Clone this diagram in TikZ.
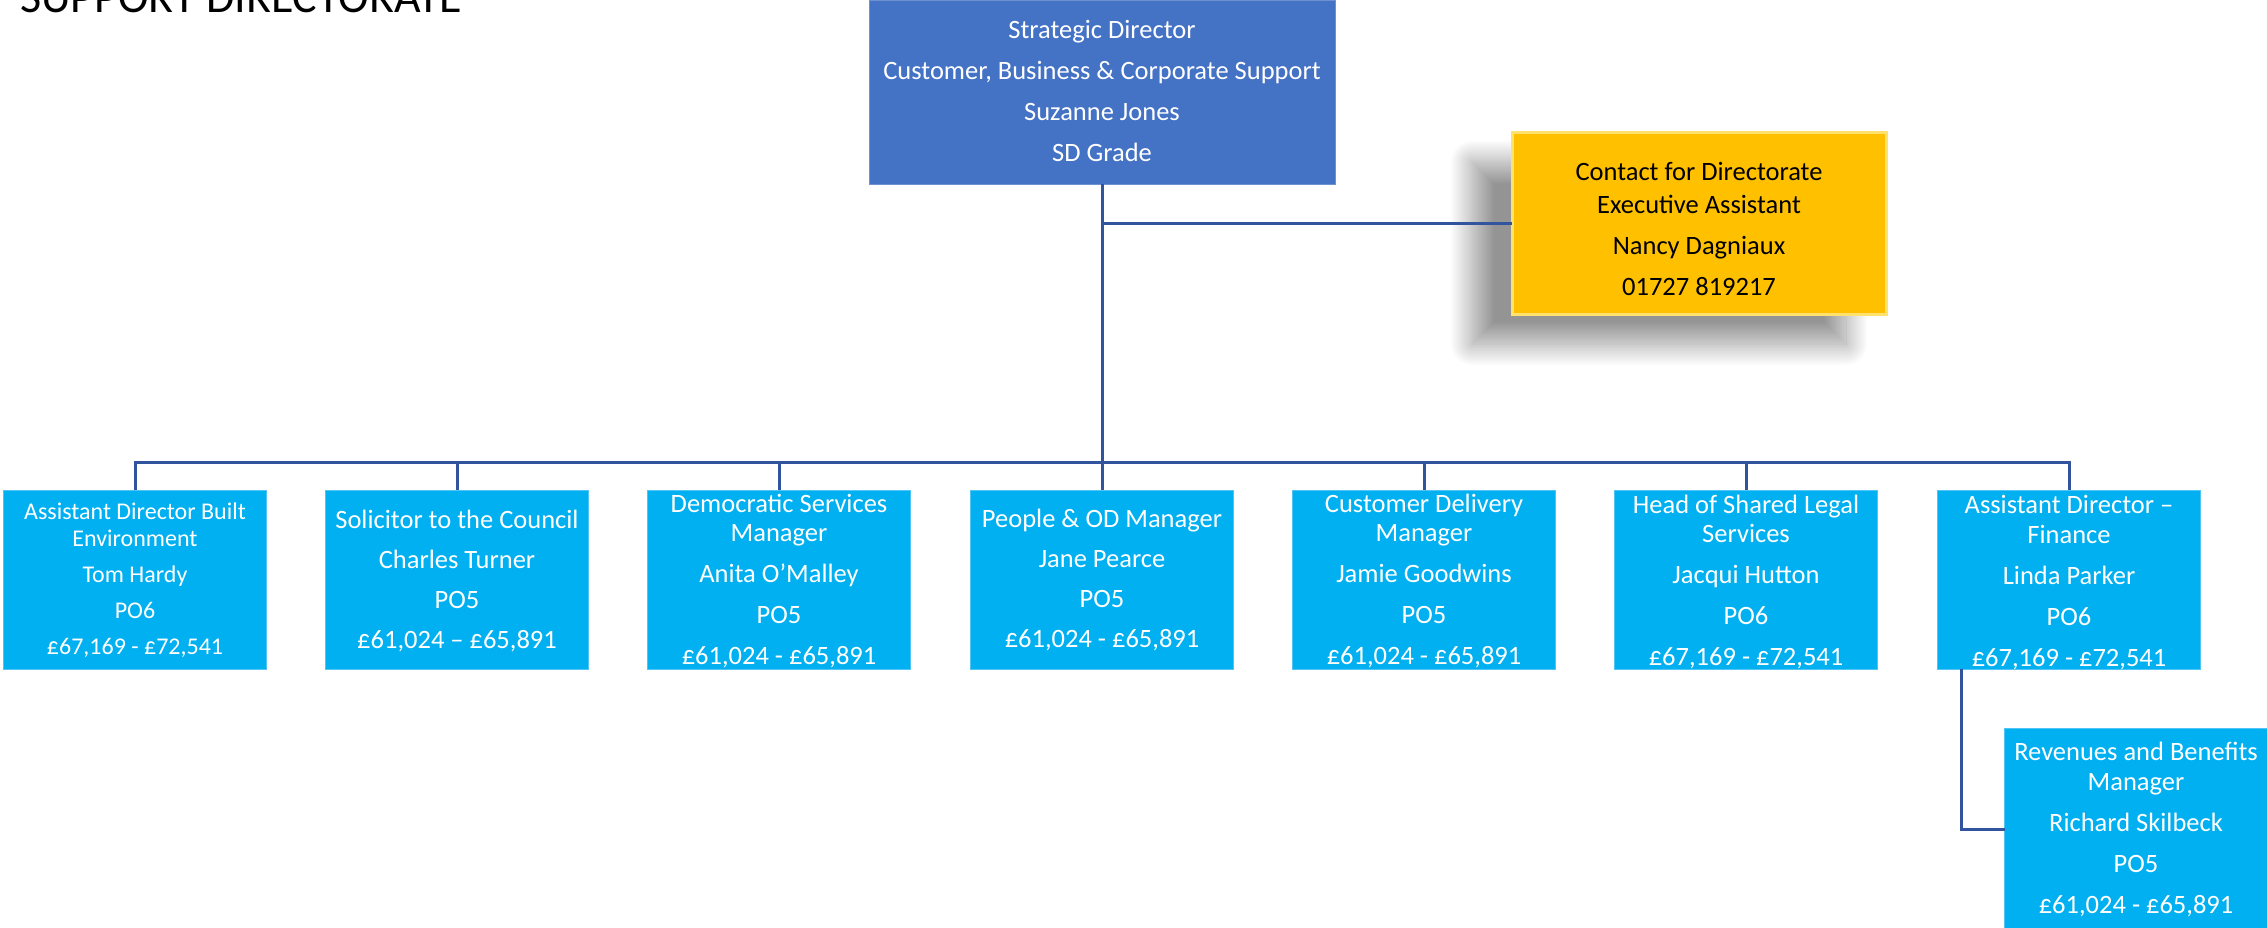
\documentclass[tikz,border=0pt]{standalone}
\usepackage{fontspec}
\setmainfont{Carlito}
\usetikzlibrary{shadows.blur}
\definecolor{topblue}{RGB}{68,114,196}
\definecolor{topedge}{RGB}{110,145,210}
\definecolor{boxblue}{RGB}{0,176,240}
\definecolor{boxedge}{RGB}{80,196,244}
\definecolor{gold}{RGB}{255,192,0}
\definecolor{goldedge}{RGB}{255,226,110}
\definecolor{linkblue}{RGB}{50,84,158}
\newcommand\boxlines[3]{\vtop{\baselineskip=#1\lineskiplimit=-100pt\lineskip=0pt\def\gp{\noalign{\vskip#2}}\halign{\hfil##\hfil\cr#3\crcr}}}
\begin{document}
\begin{tikzpicture}[x=1pt,y=-1pt,
  role/.style={rectangle, inner sep=0pt, outer sep=0pt, fill=boxblue, draw=boxedge, line width=1pt,
    minimum width=263pt, text=white, anchor=north, font=\fontsize{26.5}{29}\selectfont},
  topbox/.style={role, fill=topblue, draw=topedge, minimum width=466pt},
  eabox/.style={role, fill=gold, draw=goldedge, line width=3pt, minimum width=374pt, text=black,
    blur shadow={shadow xshift=-40pt, shadow yshift=-30pt, shadow blur radius=22pt,
      shadow blur steps=40, shadow opacity=42}},
  link/.style={draw=linkblue, line width=3pt}]
\useasboundingbox (0,0) rectangle (2267,927);

\node[anchor=base west, inner sep=0pt, font=\fontsize{46}{50}\selectfont] (title) at (20,12) {SUPPORT DIRECTORATE};

\node[topbox, text height=38pt, text depth=146pt] (sd) at (1102,0)
  {\boxlines{29pt}{12pt}{Strategic Director\cr\gp Customer, Business \& Corporate Support\cr\gp Suzanne Jones\cr\gp SD Grade}};

\node[eabox, text height=48pt, text depth=134pt] (ea) at (1699,132)
  {\boxlines{33pt}{8pt}{Contact for Directorate\cr Executive Assistant\cr\gp Nancy Dagniaux\cr\gp 01727 819217}};

\node[role, font=\fontsize{24}{27}\selectfont, text height=29pt, text depth=150pt] (b1) at (135,490)
  {\boxlines{27pt}{9pt}{Assistant Director Built\cr Environment\cr\gp Tom Hardy\cr\gp PO6\cr\gp £67,169 - £72,541}};
\node[role, text height=38pt, text depth=141pt] (b2) at (457,490)
  {\boxlines{29pt}{11pt}{Solicitor to the Council\cr\gp Charles Turner\cr\gp PO5\cr\gp £61,024 – £65,891}};
\node[role, text height=22pt, text depth=157pt] (b3) at (779,490)
  {\boxlines{29pt}{12pt}{Democratic Services\cr Manager\cr\gp Anita O’Malley\cr\gp PO5\cr\gp £61,024 - £65,891}};
\node[role, text height=37pt, text depth=142pt] (b4) at (1102,490)
  {\boxlines{29pt}{11pt}{People \& OD Manager\cr\gp Jane Pearce\cr\gp PO5\cr\gp £61,024 - £65,891}};
\node[role, text height=22pt, text depth=157pt] (b5) at (1424,490)
  {\boxlines{29pt}{12pt}{Customer Delivery\cr Manager\cr\gp Jamie Goodwins\cr\gp PO5\cr\gp £61,024 - £65,891}};
\node[role, text height=23pt, text depth=156pt] (b6) at (1746,490)
  {\boxlines{29pt}{12pt}{Head of Shared Legal\cr Services\cr\gp Jacqui Hutton\cr\gp PO6\cr\gp £67,169 - £72,541}};
\node[role, text height=23pt, text depth=156pt] (b7) at (2069,490)
  {\boxlines{30pt}{11pt}{Assistant Director –\cr Finance\cr\gp Linda Parker\cr\gp PO6\cr\gp £67,169 - £72,541}};
\node[role, text height=32pt, text depth=170pt] (rb) at (2136,728)
  {\boxlines{30pt}{11pt}{Revenues and Benefits\cr Manager\cr\gp Richard Skilbeck\cr\gp PO5\cr\gp £61,024 - £65,891}};

\coordinate (bus) at (1102,462);
\draw[link] (sd.south) -- (b4.north);
\draw[link] (sd.south |- ea.west) -- (ea.west);
\foreach \b in {b1,b2,b3,b5,b6,b7} \draw[link] (bus) -| (\b.north);
\draw[link] ([xshift=24pt]b7.south west) |- (rb.west);
\end{tikzpicture}
\end{document}
